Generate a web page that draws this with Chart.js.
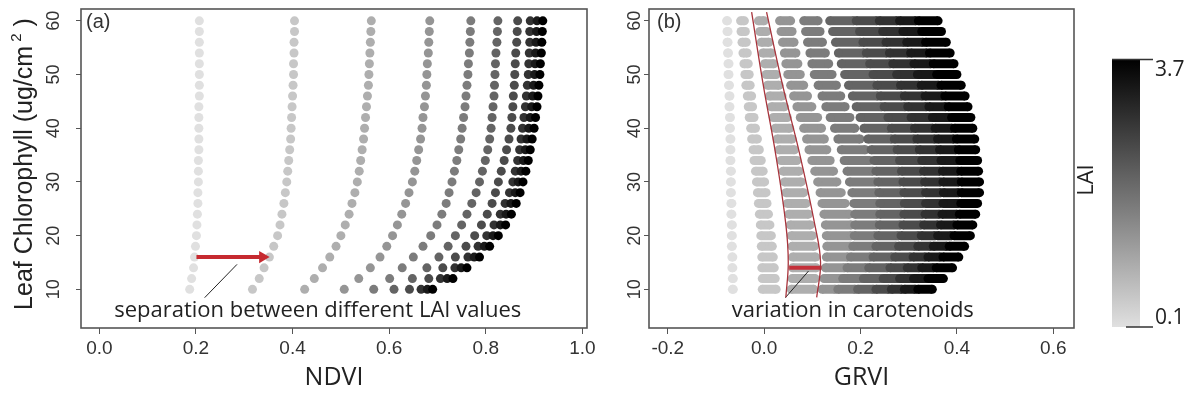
<!DOCTYPE html>
<html>
<head>
<meta charset="utf-8">
<script src="https://cdn.jsdelivr.net/npm/chart.js@4.4.0/dist/chart.umd.min.js"></script>
<style>
  html, body { margin: 0; padding: 0; background: #fff; }
  #wrap { position: relative; width: 1196px; height: 400px; }
  #left { position: absolute; left: 0; top: 0; }
  #right { position: absolute; left: 600px; top: 0; }
</style>
</head>
<body>
<div id="wrap">
  <canvas id="left" width="600" height="400" style="width:600px;height:400px"></canvas>
  <canvas id="right" width="596" height="400" style="width:596px;height:400px"></canvas>
</div>
<script>
// leaf chlorophyll rows (ug/cm2) and LAI levels
const chl = [10, 12, 14, 16, 18, 20, 22, 24, 26, 28, 30, 32, 34, 36, 38, 40, 42, 44, 46, 48, 50, 52, 54, 56, 58, 60];
const lai = [0.1, 0.5, 0.9, 1.3, 1.7, 2.1, 2.5, 2.9, 3.3, 3.7];

const ndviTicks = [0, 0.2, 0.4, 0.6, 0.8, 1.0];
const grviTicks = [-0.2, 0, 0.2, 0.4, 0.6];
const chlTicks = [10, 20, 30, 40, 50, 60];

// panel (a): NDVI per LAI level, one value per chlorophyll row
const ndvi = [
  [0.187,0.191,0.195,0.197,0.199,0.201,0.202,0.203,0.204,0.204,0.205,0.205,0.205,0.206,0.206,0.206,0.206,0.206,0.207,0.207,0.207,0.207,0.207,0.207,0.207,0.207],
  [0.317,0.331,0.341,0.352,0.361,0.369,0.374,0.378,0.382,0.385,0.388,0.390,0.392,0.394,0.396,0.397,0.398,0.399,0.400,0.401,0.402,0.402,0.403,0.403,0.404,0.404],
  [0.425,0.445,0.462,0.477,0.490,0.500,0.509,0.517,0.523,0.529,0.534,0.538,0.541,0.544,0.547,0.549,0.551,0.553,0.555,0.557,0.558,0.559,0.560,0.561,0.562,0.563],
  [0.507,0.537,0.561,0.581,0.595,0.607,0.617,0.626,0.634,0.641,0.648,0.653,0.657,0.661,0.665,0.668,0.670,0.673,0.675,0.677,0.678,0.679,0.681,0.682,0.683,0.684],
  [0.568,0.601,0.627,0.650,0.670,0.686,0.699,0.709,0.718,0.724,0.730,0.735,0.740,0.744,0.748,0.751,0.754,0.757,0.759,0.761,0.763,0.764,0.766,0.767,0.768,0.769],
  [0.610,0.648,0.678,0.703,0.722,0.737,0.750,0.761,0.771,0.780,0.787,0.793,0.799,0.804,0.808,0.811,0.813,0.815,0.817,0.818,0.819,0.820,0.821,0.823,0.824,0.825],
  [0.642,0.682,0.711,0.737,0.759,0.777,0.791,0.803,0.813,0.820,0.826,0.832,0.838,0.843,0.848,0.852,0.854,0.856,0.857,0.859,0.860,0.861,0.862,0.864,0.865,0.866],
  [0.666,0.706,0.736,0.763,0.784,0.802,0.817,0.830,0.840,0.849,0.856,0.861,0.866,0.870,0.873,0.876,0.879,0.882,0.884,0.886,0.888,0.889,0.890,0.891,0.891,0.892],
  [0.679,0.720,0.749,0.776,0.797,0.815,0.830,0.842,0.852,0.861,0.867,0.873,0.878,0.882,0.885,0.889,0.892,0.895,0.897,0.899,0.901,0.902,0.903,0.904,0.905,0.906],
  [0.690,0.732,0.761,0.787,0.808,0.826,0.841,0.853,0.863,0.871,0.877,0.883,0.888,0.892,0.896,0.900,0.903,0.906,0.908,0.910,0.912,0.913,0.915,0.916,0.917,0.918]
];

// panel (b): GRVI range (carotenoid variation) per LAI level and chlorophyll row
const grviLow = [
  [-0.066,-0.066,-0.067,-0.067,-0.068,-0.068,-0.068,-0.069,-0.069,-0.070,-0.070,-0.070,-0.071,-0.071,-0.071,-0.072,-0.072,-0.073,-0.073,-0.074,-0.075,-0.075,-0.076,-0.077,-0.077,-0.078],
  [-0.004,-0.004,-0.005,-0.005,-0.006,-0.007,-0.008,-0.010,-0.012,-0.014,-0.016,-0.018,-0.021,-0.023,-0.026,-0.028,-0.031,-0.033,-0.035,-0.038,-0.040,-0.042,-0.044,-0.046,-0.048,-0.049],
  [0.056,0.058,0.059,0.059,0.058,0.056,0.054,0.051,0.048,0.045,0.042,0.039,0.035,0.031,0.027,0.023,0.019,0.015,0.011,0.007,0.004,0.001,-0.003,-0.006,-0.009,-0.012],
  [0.120,0.124,0.127,0.129,0.130,0.129,0.127,0.124,0.120,0.116,0.111,0.105,0.099,0.093,0.088,0.082,0.075,0.068,0.061,0.055,0.049,0.045,0.042,0.038,0.035,0.032],
  [0.153,0.163,0.172,0.179,0.184,0.187,0.188,0.188,0.186,0.182,0.177,0.172,0.166,0.160,0.153,0.146,0.137,0.128,0.120,0.112,0.104,0.099,0.095,0.090,0.086,0.082],
  [0.194,0.206,0.217,0.226,0.232,0.236,0.239,0.240,0.240,0.238,0.236,0.232,0.228,0.222,0.215,0.207,0.199,0.191,0.183,0.175,0.167,0.160,0.154,0.148,0.142,0.136],
  [0.232,0.247,0.261,0.271,0.279,0.284,0.288,0.290,0.291,0.290,0.288,0.285,0.281,0.276,0.270,0.264,0.257,0.249,0.241,0.234,0.226,0.219,0.212,0.205,0.198,0.191],
  [0.264,0.281,0.297,0.309,0.319,0.326,0.331,0.334,0.335,0.335,0.333,0.331,0.327,0.322,0.317,0.312,0.305,0.298,0.291,0.283,0.275,0.267,0.260,0.253,0.246,0.239],
  [0.291,0.310,0.327,0.340,0.351,0.360,0.366,0.369,0.371,0.372,0.371,0.370,0.367,0.364,0.360,0.355,0.349,0.342,0.334,0.326,0.318,0.311,0.304,0.296,0.288,0.281],
  [0.319,0.340,0.357,0.371,0.384,0.394,0.400,0.405,0.408,0.409,0.409,0.408,0.406,0.403,0.399,0.395,0.389,0.382,0.375,0.367,0.358,0.351,0.343,0.335,0.327,0.320]
];
const grviHigh = [
  [-0.064,-0.064,-0.065,-0.065,-0.066,-0.066,-0.066,-0.067,-0.067,-0.068,-0.068,-0.068,-0.069,-0.069,-0.069,-0.070,-0.070,-0.071,-0.071,-0.072,-0.073,-0.073,-0.074,-0.075,-0.075,-0.076],
  [0.025,0.023,0.021,0.019,0.017,0.015,0.012,0.009,0.006,0.004,0.001,-0.002,-0.006,-0.010,-0.014,-0.018,-0.021,-0.024,-0.026,-0.029,-0.031,-0.033,-0.035,-0.037,-0.039,-0.041],
  [0.103,0.106,0.108,0.107,0.104,0.100,0.096,0.092,0.087,0.082,0.077,0.073,0.068,0.063,0.058,0.053,0.048,0.042,0.037,0.031,0.025,0.020,0.015,0.010,0.005,0.000],
  [0.148,0.158,0.167,0.174,0.179,0.181,0.181,0.177,0.168,0.160,0.151,0.144,0.137,0.130,0.125,0.119,0.111,0.099,0.090,0.082,0.075,0.070,0.066,0.062,0.058,0.055],
  [0.189,0.201,0.212,0.221,0.227,0.231,0.234,0.235,0.235,0.233,0.231,0.226,0.219,0.210,0.199,0.188,0.178,0.168,0.159,0.150,0.141,0.134,0.127,0.121,0.116,0.112],
  [0.227,0.242,0.256,0.266,0.274,0.279,0.283,0.285,0.286,0.285,0.283,0.280,0.276,0.271,0.265,0.259,0.252,0.244,0.236,0.229,0.221,0.214,0.207,0.200,0.193,0.186],
  [0.259,0.276,0.292,0.304,0.314,0.321,0.326,0.329,0.330,0.330,0.328,0.326,0.322,0.317,0.312,0.307,0.300,0.293,0.286,0.278,0.270,0.262,0.255,0.248,0.241,0.234],
  [0.286,0.305,0.322,0.335,0.346,0.355,0.361,0.364,0.366,0.367,0.366,0.365,0.362,0.359,0.355,0.350,0.344,0.337,0.329,0.321,0.313,0.306,0.299,0.291,0.283,0.276],
  [0.314,0.335,0.352,0.366,0.379,0.389,0.395,0.400,0.403,0.404,0.404,0.403,0.401,0.398,0.394,0.390,0.384,0.377,0.370,0.362,0.353,0.346,0.338,0.330,0.322,0.315],
  [0.349,0.372,0.391,0.404,0.416,0.428,0.433,0.439,0.443,0.447,0.447,0.445,0.443,0.439,0.437,0.433,0.429,0.423,0.417,0.409,0.400,0.394,0.386,0.378,0.368,0.361]
];

// annotations (data units)
const arrowShaftX = [0.201, 0.336];
const arrowTipX = 0.338;
const arrowChl = 16;
const pointerA = [[0.218, 8.45], [0.285, 14.65]];
const pointerB = [[0.044, 8.45], [0.092, 13.4]];
const caroLeft = [[-0.026, 61.6], [-0.002, 48.1], [0.024, 35.1], [0.045, 22.1], [0.050, 15], [0.045, 8.5]];
const caroRight = [[0.005, 61.6], [0.038, 48.1], [0.074, 35.1], [0.105, 22.1], [0.117, 15], [0.109, 8.5]];
const caroBarX = [0.052, 0.119];
const caroBarChl = 14;

const ARIAL = '"Liberation Sans", Arial, sans-serif';
const SANS = '"Open Sans", "Noto Sans", sans-serif';

function laiColor(v) {
  const t = (v - lai[0]) / (lai[lai.length - 1] - lai[0]);
  const g = Math.round(224 * (1 - t));
  return `rgb(${g},${g},${g})`;
}

function makeOptions(xMin, xMax, xTicks, areaLeft, padRight) {
  return {
    responsive: false,
    animation: false,
    events: [],
    devicePixelRatio: 1,
    layout: { padding: { left: 0, right: padRight, top: 9, bottom: 0 } },
    plugins: { legend: { display: false }, tooltip: { enabled: false } },
    scales: {
      x: {
        type: 'linear', min: xMin, max: xMax,
        afterBuildTicks: (s) => { s.ticks = xTicks.map((v) => ({ value: v })); },
        afterFit: (s) => { s.height = 72; },
        ticks: { callback: (v) => Number(v).toFixed(1), font: { family: ARIAL, size: 19 }, color: '#333', padding: 3, maxRotation: 0, autoSkip: false },
        grid: { drawOnChartArea: false, drawTicks: true, tickLength: 6, color: '#555' },
        border: { display: false }
      },
      y: {
        type: 'linear', min: 2.8, max: 62.2,
        afterBuildTicks: (s) => { s.ticks = chlTicks.map((v) => ({ value: v })); },
        afterFit: (s) => { s.width = areaLeft; },
        ticks: { display: false },
        grid: { drawOnChartArea: false, drawTicks: true, tickLength: 5, color: '#555' },
        border: { display: false }
      }
    }
  };
}

// frame, rotated y tick labels, panel letter and annotation text
function panelDecor(opts) {
  return {
    id: 'decor',
    afterDraw(chart) {
      const { ctx, chartArea: a } = chart;
      const xs = chart.scales.x, ys = chart.scales.y;
      ctx.save();
      ctx.strokeStyle = '#555';
      ctx.lineWidth = 1.6;
      ctx.strokeRect(a.left, a.top, a.right - a.left, a.bottom - a.top);

      ctx.fillStyle = '#333';
      ctx.font = `18px ${ARIAL}`;
      ctx.textAlign = 'center';
      ctx.textBaseline = 'middle';
      ys.ticks.forEach((t) => {
        ctx.save();
        ctx.translate(opts.yLabelX, ys.getPixelForValue(t.value));
        ctx.rotate(-Math.PI / 2);
        ctx.fillText(String(t.value), 0, 0);
        ctx.restore();
      });

      ctx.font = `20px ${ARIAL}`;
      ctx.textAlign = 'left';
      ctx.fillText(opts.letter, a.left + opts.letterDx, a.top + 13);

      ctx.fillStyle = '#222';
      ctx.font = `22px ${SANS}`;
      ctx.textAlign = 'center';
      ctx.textBaseline = 'alphabetic';
      ctx.fillText(opts.note, xs.getPixelForValue(opts.noteAt[0]), ys.getPixelForValue(opts.noteAt[1]));

      ctx.fillStyle = '#222';
      ctx.font = `25px ${SANS}`;
      ctx.textBaseline = 'middle';
      ctx.fillText(opts.xTitle, (a.left + a.right) / 2, 378);
      ctx.restore();
      if (opts.extra) opts.extra(chart);
    }
  };
}

function yTitle(chart) {
  const ctx = chart.ctx;
  ctx.save();
  ctx.translate(25, 164);
  ctx.rotate(-Math.PI / 2);
  ctx.fillStyle = '#222';
  ctx.textBaseline = 'middle';
  ctx.font = `25px ${ARIAL}`;
  const main = 'Leaf Chlorophyll (ug/cm', tail = ' )';
  const wMain = ctx.measureText(main).width;
  const wTail = ctx.measureText(tail).width;
  ctx.font = `15px ${ARIAL}`;
  const wSup = ctx.measureText(' 2').width;
  const total = wMain + wSup + wTail;
  let x = -total / 2;
  ctx.font = `25px ${ARIAL}`;
  ctx.textAlign = 'left';
  ctx.fillText(main, x, 0);
  x += wMain;
  ctx.font = `15px ${ARIAL}`;
  ctx.fillText(' 2', x, -8);
  x += wSup;
  ctx.font = `25px ${ARIAL}`;
  ctx.fillText(tail, x, 0);
  ctx.restore();
}

function colorBar(chart) {
  const ctx = chart.ctx;
  const x0 = 512, w = 28, top = 59, bottom = 327;
  ctx.save();
  const g = ctx.createLinearGradient(0, bottom, 0, top);
  lai.forEach((v, i) => g.addColorStop(i / (lai.length - 1), laiColor(v)));
  ctx.fillStyle = g;
  ctx.fillRect(x0, top, w, bottom - top);
  ctx.strokeStyle = '#333';
  ctx.lineWidth = 1.5;
  ctx.beginPath();
  ctx.moveTo(x0, top + 0.5); ctx.lineTo(x0 + 41, top + 0.5);
  ctx.moveTo(x0 + 14, bottom); ctx.lineTo(x0 + 41, bottom);
  ctx.stroke();
  ctx.fillStyle = '#222';
  ctx.font = `21px ${SANS}`;
  ctx.textAlign = 'left';
  ctx.textBaseline = 'middle';
  ctx.fillText(lai[lai.length - 1].toFixed(1), x0 + 43, 70);
  ctx.fillText(lai[0].toFixed(1), x0 + 43, 318);
  ctx.translate(487, 180);
  ctx.rotate(-Math.PI / 2);
  ctx.textAlign = 'center';
  ctx.font = `22px ${SANS}`;
  ctx.fillText('LAI', 0, 0);
  ctx.restore();
}

// ---- panel (a)
const leftSets = lai.map((v, i) => ({
  data: chl.map((c, j) => ({ x: ndvi[i][j], y: c })),
  backgroundColor: laiColor(v),
  borderWidth: 0,
  pointRadius: 4.5,
  order: lai.length - i
}));
leftSets.push(
  { data: arrowShaftX.map((x) => ({ x, y: arrowChl })), showLine: true, borderColor: '#c62a30', borderWidth: 4, pointRadius: 0, order: 0 },
  { data: [{ x: arrowTipX, y: arrowChl }], pointStyle: 'triangle', rotation: 90, pointRadius: 7, backgroundColor: '#c62a30', borderWidth: 0, order: 0 },
  { data: pointerA.map(([x, y]) => ({ x, y })), showLine: true, borderColor: '#222', borderWidth: 1, pointRadius: 0, order: 0 }
);

const leftOpts = makeOptions(-0.038, 1.0095, ndviTicks, 81, 13);
new Chart(document.getElementById('left'), {
  type: 'scatter',
  data: { datasets: leftSets },
  options: leftOpts,
  plugins: [panelDecor({
    yLabelX: 54, letter: '(a)', letterDx: 5,
    note: 'separation between different LAI values', noteAt: [0.452, 4.85],
    xTitle: 'NDVI', extra: yTitle
  })]
});

// ---- panel (b)
const rightSets = lai.map((v, i) => {
  const pts = [];
  chl.forEach((c, j) => {
    pts.push({ x: grviLow[i][j], y: c }, { x: grviHigh[i][j], y: c }, { x: null, y: null });
  });
  const col = laiColor(v);
  return {
    data: pts, showLine: true, spanGaps: false,
    borderColor: col, backgroundColor: col, borderWidth: 9, borderCapStyle: 'butt',
    pointRadius: 4.5, pointBorderWidth: 0, order: lai.length - i
  };
});
rightSets.push(
  { data: caroLeft.map(([x, y]) => ({ x, y })), showLine: true, tension: 0.4, borderColor: '#a8343c', borderWidth: 1.3, pointRadius: 0, order: 0 },
  { data: caroRight.map(([x, y]) => ({ x, y })), showLine: true, tension: 0.4, borderColor: '#a8343c', borderWidth: 1.3, pointRadius: 0, order: 0 },
  { data: caroBarX.map((x) => ({ x, y: caroBarChl })), showLine: true, borderColor: '#c4303a', borderWidth: 4, pointRadius: 0, order: 0 },
  { data: pointerB.map(([x, y]) => ({ x, y })), showLine: true, borderColor: '#222', borderWidth: 1, pointRadius: 0, order: 0 }
);

const rightOpts = makeOptions(-0.239, 0.643, grviTicks, 49, 122);
new Chart(document.getElementById('right'), {
  type: 'scatter',
  data: { datasets: rightSets },
  options: rightOpts,
  plugins: [panelDecor({
    yLabelX: 35, letter: '(b)', letterDx: 8,
    note: 'variation in carotenoids', noteAt: [0.184, 4.85],
    xTitle: 'GRVI', extra: colorBar
  })]
});
</script>
</body>
</html>
